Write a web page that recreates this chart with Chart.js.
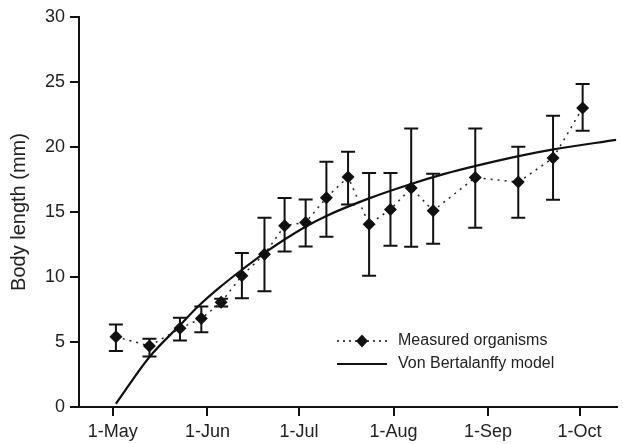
<!DOCTYPE html>
<html>
<head>
<meta charset="utf-8">
<script src="https://cdn.jsdelivr.net/npm/chart.js@4"></script>
<style>
  html, body { margin: 0; padding: 0; background: #fff; }
  #wrap { width: 623px; height: 444px; }
</style>
</head>
<body>
<div id="wrap"><canvas id="chart" width="623" height="444"></canvas></div>
<script>
// days counted from 1 May
var tickDays = [0, 31, 61, 92, 123, 153];
var tickLabels = ['1-May', '1-Jun', '1-Jul', '1-Aug', '1-Sep', '1-Oct'];

// measured organisms: mean body length (mm) with error bar ends
var sampleDays = [1, 12, 22, 29, 35.5, 42.3, 49.7, 56.3, 63.2, 70, 77.1, 84, 91, 97.8, 105, 118.8, 132.9, 144.3, 154];
var meanLength = [5.4, 4.7, 6.05, 6.8, 8.05, 10.1, 11.75, 13.95, 14.2, 16.1, 17.7, 14.05, 15.2, 16.85, 15.1, 17.65, 17.3, 19.15, 23.0];
var errHigh = [6.35, 5.25, 6.87, 7.73, 8.32, 11.85, 14.56, 16.08, 15.97, 18.87, 19.64, 18.0, 18.0, 21.43, 17.95, 21.43, 20.02, 22.4, 24.85];
var errLow = [4.3, 3.89, 5.12, 5.75, 7.73, 8.36, 8.9, 11.97, 12.35, 13.1, 15.58, 10.1, 12.41, 12.33, 12.56, 13.79, 14.56, 15.95, 21.25];

// Von Bertalanffy model curve
var curveDays = [1, 12, 22, 28, 35, 42, 50, 63, 70, 84, 97, 109, 119, 133, 144, 165];
var curveLength = [0.25, 3.85, 6.3, 7.75, 9.2, 10.5, 11.9, 13.85, 14.7, 16.05, 17.1, 17.95, 18.55, 19.3, 19.8, 20.55];

function toPoints(xs, ys) {
    return xs.map(function (x, i) { return { x: x, y: ys[i] }; });
}

var FONT = '"Liberation Sans", Arial, Helvetica, sans-serif';
var INK = '#111';

// error bars drawn below the diamonds
var errorBars = {
    id: 'errorBars',
    beforeDatasetsDraw: function (chart) {
        var ctx = chart.ctx;
        var xs = chart.scales.x, ys = chart.scales.y;
        ctx.save();
        ctx.strokeStyle = INK;
        ctx.lineWidth = 2;
        sampleDays.forEach(function (d, i) {
            var px = xs.getPixelForValue(d);
            var top = ys.getPixelForValue(errHigh[i]);
            var bot = ys.getPixelForValue(errLow[i]);
            ctx.beginPath();
            ctx.moveTo(px, top); ctx.lineTo(px, bot);
            ctx.moveTo(px - 7, top); ctx.lineTo(px + 7, top);
            ctx.moveTo(px - 7, bot); ctx.lineTo(px + 7, bot);
            ctx.stroke();
        });
        ctx.restore();
    }
};

// legend in the lower right of the plot
var legendBox = {
    id: 'legendBox',
    afterDraw: function (chart) {
        var ctx = chart.ctx;
        ctx.save();
        ctx.strokeStyle = INK;
        ctx.lineWidth = 1.5;
        ctx.setLineDash([2, 4]);
        ctx.beginPath();
        ctx.moveTo(337, 341); ctx.lineTo(387, 341);
        ctx.stroke();
        ctx.setLineDash([]);
        ctx.fillStyle = INK;
        ctx.beginPath();
        ctx.moveTo(362, 334.5); ctx.lineTo(368, 341); ctx.lineTo(362, 347.5); ctx.lineTo(356, 341);
        ctx.closePath();
        ctx.fill();
        ctx.lineWidth = 2;
        ctx.beginPath();
        ctx.moveTo(337, 364); ctx.lineTo(387, 364);
        ctx.stroke();
        ctx.fillStyle = '#222';
        ctx.font = '16px ' + FONT;
        ctx.textBaseline = 'middle';
        ctx.fillText('Measured organisms', 398, 341);
        ctx.fillText('Von Bertalanffy model', 398, 364);
        ctx.restore();
    }
};

new Chart(document.getElementById('chart').getContext('2d'), {
    type: 'line',
    data: {
        datasets: [{
            label: 'Von Bertalanffy model',
            data: toPoints(curveDays, curveLength),
            borderColor: INK,
            borderWidth: 2.2,
            pointRadius: 0,
            cubicInterpolationMode: 'monotone',
            fill: false
        }, {
            label: 'Measured organisms',
            data: toPoints(sampleDays, meanLength),
            borderColor: '#222',
            borderWidth: 1.5,
            borderDash: [2, 5],
            pointStyle: 'rectRot',
            pointRadius: 6.5,
            pointBackgroundColor: INK,
            pointBorderWidth: 0,
            fill: false
        }]
    },
    options: {
        responsive: false,
        animation: false,
        devicePixelRatio: 1,
        layout: { padding: { top: 17, right: 0, left: 0, bottom: 0 } },
        plugins: { legend: { display: false }, tooltip: { enabled: false } },
        scales: {
            x: {
                type: 'linear',
                min: -11.1,
                max: 165.1,
                afterBuildTicks: function (scale) {
                    scale.ticks = tickDays.map(function (d) { return { value: d }; });
                },
                afterFit: function (scale) { scale.height = 37; },
                ticks: {
                    autoSkip: false,
                    maxRotation: 0,
                    padding: 5,
                    color: '#222',
                    font: { family: FONT, size: 18 },
                    callback: function (v) {
                        var i = tickDays.indexOf(v);
                        return i >= 0 ? tickLabels[i] : '';
                    }
                },
                grid: { drawOnChartArea: false, tickLength: 9, color: INK, lineWidth: 2 },
                border: { display: true, color: INK, width: 2 }
            },
            y: {
                min: 0,
                max: 30,
                afterFit: function (scale) { scale.width = 79; },
                ticks: {
                    stepSize: 5,
                    padding: 5,
                    color: '#222',
                    font: { family: FONT, size: 18 }
                },
                title: {
                    display: true,
                    text: 'Body length (mm)',
                    color: '#222',
                    padding: { top: 7, bottom: 0 },
                    font: { family: FONT, size: 20 }
                },
                grid: { drawOnChartArea: false, tickLength: 9, color: INK, lineWidth: 2 },
                border: { display: true, color: INK, width: 2 }
            }
        }
    },
    plugins: [errorBars, legendBox]
});
</script>
</body>
</html>
